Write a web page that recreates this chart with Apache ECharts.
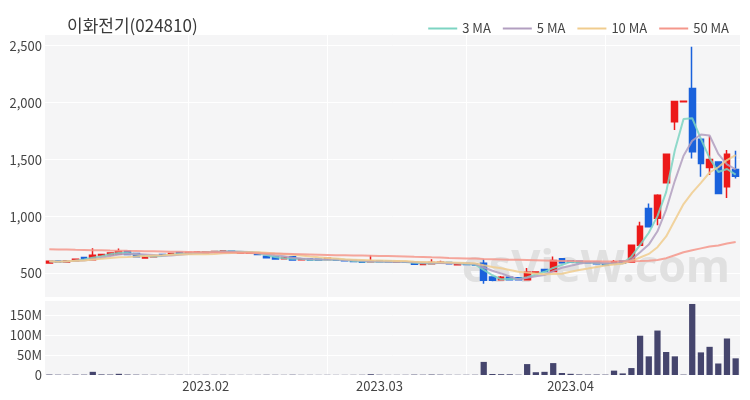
<!DOCTYPE html>
<html>
<head>
<meta charset="utf-8">
<script src="https://cdn.jsdelivr.net/npm/echarts@6/dist/echarts.min.js"></script>
<style>
html, body { margin: 0; padding: 0; background: #fff; }
#main { width: 750px; height: 400px; }
</style>
</head>
<body>
<div id="main"></div>
<script>
// trading days, 2023-01-04 ~ 2023-04-28
var dates = [
  '2023-01-04','2023-01-05','2023-01-06','2023-01-09','2023-01-10','2023-01-11','2023-01-12','2023-01-13',
  '2023-01-16','2023-01-17','2023-01-18','2023-01-19','2023-01-20','2023-01-25','2023-01-26','2023-01-27',
  '2023-01-30','2023-01-31',
  '2023-02-01','2023-02-02','2023-02-03','2023-02-06','2023-02-07','2023-02-08','2023-02-09','2023-02-10',
  '2023-02-13','2023-02-14','2023-02-15','2023-02-16','2023-02-17','2023-02-20','2023-02-21','2023-02-22',
  '2023-02-23','2023-02-24','2023-02-27','2023-02-28',
  '2023-03-02','2023-03-03','2023-03-06','2023-03-07','2023-03-08','2023-03-09','2023-03-10','2023-03-13',
  '2023-03-14','2023-03-15','2023-03-16','2023-03-17','2023-03-20','2023-03-21','2023-03-22','2023-03-23',
  '2023-03-24','2023-03-27','2023-03-28','2023-03-29','2023-03-30','2023-03-31',
  '2023-04-03','2023-04-04','2023-04-05','2023-04-06','2023-04-07','2023-04-10','2023-04-11','2023-04-12',
  '2023-04-13','2023-04-14','2023-04-17','2023-04-18','2023-04-19','2023-04-20','2023-04-21','2023-04-24',
  '2023-04-25','2023-04-26','2023-04-27','2023-04-28'
];

var opens = [
  592, 610, 602, 612, 640, 622, 658, 666, 672, 695,
  676, 636, 648, 668, 668, 684, 676, 680, 682, 686,
  688, 696, 680, 678, 676, 652, 645, 630, 648, 620,
  628, 626, 624, 626, 618, 614, 608, 603, 612, 608,
  600, 604, 600, 580, 585, 590, 596, 578, 588, 584,
  590, 470, 445, 468, 462, 445, 508, 535, 518, 630,
  612, 608, 600, 600, 586, 588, 608, 602, 748, 1070,
  985, 1296, 1832, 2008, 2125, 1678, 1431, 1480, 1261, 1414
];
var closes = [
  608, 600, 612, 626, 630, 660, 668, 680, 694, 668,
  648, 648, 655, 662, 676, 678, 684, 688, 690, 694,
  698, 688, 686, 684, 668, 638, 628, 640, 618, 630,
  618, 616, 634, 616, 612, 606, 598, 610, 604, 602,
  606, 598, 582, 590, 596, 600, 585, 584, 580, 576,
  440, 440, 468, 445, 446, 512, 514, 518, 615, 595,
  600, 596, 594, 586, 576, 604, 592, 748, 915, 910,
  1188, 1548, 2010, 2012, 1570, 1467, 1502, 1203, 1548, 1355
];
var lows = [
  588, 596, 600, 608, 626, 615, 654, 662, 668, 664,
  644, 632, 644, 658, 664, 674, 672, 676, 678, 682,
  684, 684, 676, 674, 664, 634, 624, 626, 614, 616,
  614, 612, 620, 612, 608, 602, 594, 598, 600, 598,
  596, 594, 578, 576, 582, 586, 582, 574, 576, 572,
  410, 432, 440, 440, 440, 438, 506, 512, 512, 588,
  596, 592, 590, 582, 572, 582, 588, 598, 740, 905,
  925, 1290, 1760, 2004, 1510, 1350, 1364, 1197, 1164, 1335
];
var highs = [
  612, 614, 616, 630, 644, 722, 672, 685, 720, 700,
  680, 652, 660, 672, 680, 688, 688, 692, 694, 698,
  702, 700, 690, 688, 680, 656, 648, 644, 650, 634,
  632, 630, 638, 630, 622, 618, 612, 660, 616, 612,
  610, 608, 604, 594, 625, 612, 600, 590, 592, 588,
  625, 475, 478, 472, 468, 548, 516, 540, 650, 636,
  618, 612, 604, 604, 590, 618, 612, 752, 955, 1115,
  1195, 1552, 2012, 2014, 2491, 1680, 1706, 1485, 1584, 1577
];
// volume, millions of shares
var volumes = [
  1.2, 0.8, 0.7, 1.0, 0.9, 8, 1.5, 1.2, 3, 1.2,
  0.9, 0.7, 0.6, 0.6, 0.5, 0.6, 0.5, 0.5, 0.6, 0.5,
  0.6, 0.5, 0.4, 0.4, 0.5, 0.7, 0.6, 0.5, 0.8, 0.5,
  0.5, 0.4, 0.5, 0.4, 0.4, 0.5, 0.6, 2.0, 0.8, 0.5,
  0.5, 0.6, 1.0, 0.8, 1.2, 0.9, 0.6, 0.5, 0.6, 0.7,
  33, 2.5, 2, 1.8, 0.8, 27.5, 7, 8, 30, 5,
  3, 1.5, 1.2, 1.2, 1.0, 11, 4, 17.5, 99, 47,
  112, 58, 47, 1, 179, 57, 71, 29, 92, 42
];
// 50-day MA (needs history before the window)
var ma50 = [
  713, 711, 710, 708, 707, 705, 704, 702, 701, 699,
  698, 696, 695, 694, 692, 691, 690, 688, 687, 686,
  685, 684, 682, 681, 679, 677, 675, 673, 671, 669,
  667, 665, 663, 661, 660, 659, 658, 657, 655, 654,
  652, 650, 647, 645, 642, 640, 637, 635, 633, 631,
  628, 626, 624, 622, 620, 618, 616, 614, 612, 610,
  609, 608, 607, 607, 606, 606, 607, 608, 610, 613,
  618, 635, 661, 687, 705, 721, 737, 747, 764, 777
];
var maNames = ['3 MA', '5 MA', '10 MA', '50 MA'];
var maColors = ['#7dd4c2', '#b29fc0', '#f0cc8e', '#f4978b'];

function calcMA(n) {
  var out = [];
  for (var i = 0; i < closes.length; i++) {
    var s = 0, c = 0;
    for (var j = Math.max(0, i - n + 1); j <= i; j++) { s += closes[j]; c++; }
    out.push(Math.round(s / c));
  }
  return out;
}

var candles = opens.map(function (o, i) { return [o, closes[i], lows[i], highs[i]]; });
var maData = [calcMA(3), calcMA(5), calcMA(10), ma50];

function isMonthStart(i) {
  return i > 0 && dates[i].slice(0, 7) !== dates[i - 1].slice(0, 7);
}
function gridLineAt(i) {
  return i > 0 && i % 16 === 0;
}
function commas(v) {
  return String(v).replace(/\B(?=(\d{3})+(?!\d))/g, ',');
}

var chart = echarts.init(document.getElementById('main'));

var xAxisBase = {
  type: 'category',
  data: dates,
  boundaryGap: true,
  axisLine: { show: false },
  axisTick: { show: false },
  splitLine: {
    show: true,
    interval: function (i) { return gridLineAt(i); },
    alignWithLabel: true,
    lineStyle: { color: '#ffffff', width: 1 }
  }
};

var series = [{
  name: 'price',
  type: 'candlestick',
  xAxisIndex: 0,
  yAxisIndex: 0,
  data: candles,
  barWidth: '72%',
  itemStyle: {
    color: '#ec1a1a',
    color0: '#1a62dc',
    borderColor: '#ec1a1a',
    borderColor0: '#1a62dc',
    borderWidth: 1.5
  },
  z: 2
}];
maNames.forEach(function (name, k) {
  series.push({
    name: name,
    type: 'line',
    xAxisIndex: 0,
    yAxisIndex: 0,
    data: maData[k],
    showSymbol: false,
    symbol: 'none',
    lineStyle: { color: maColors[k], width: 2, opacity: 0.85 },
    itemStyle: { color: maColors[k] },
    z: 3
  });
});
series.push({
  name: 'volume',
  type: 'bar',
  xAxisIndex: 1,
  yAxisIndex: 1,
  data: volumes,
  barWidth: '72%',
  itemStyle: { color: '#45456d' }
});

chart.setOption({
  animation: false,
  backgroundColor: '#ffffff',
  textStyle: { fontFamily: '"Noto Sans CJK KR", "Noto Sans", sans-serif' },
  title: {
    text: '이화전기(024810)',
    left: 62,
    top: 12,
    textStyle: { fontSize: 17, fontWeight: 'normal', color: '#3a3a3a' }
  },
  legend: {
    data: maNames,
    right: 16,
    top: 17,
    icon: 'rect',
    itemWidth: 29,
    itemHeight: 2,
    itemGap: 12,
    textStyle: { fontSize: 13, color: '#444' }
  },
  graphic: [{
    type: 'text',
    right: 20,
    top: 247,
    z: 1,
    silent: true,
    style: {
      text: 'esVieW.com',
      font: 'bold 45px "Noto Sans", sans-serif',
      fill: '#e0e0e0'
    }
  }],
  grid: [
    { left: 45, right: 10, top: 34, height: 263, show: true, backgroundColor: '#f5f5f6', borderWidth: 0 },
    { left: 45, right: 10, top: 300, height: 75, show: true, backgroundColor: '#f5f5f6', borderWidth: 0 }
  ],
  xAxis: [
    Object.assign({}, xAxisBase, { gridIndex: 0, axisLabel: { show: false } }),
    Object.assign({}, xAxisBase, {
      gridIndex: 1,
      axisLabel: {
        show: true,
        interval: function (i) { return isMonthStart(i); },
        formatter: function (v) { return v.slice(0, 7).replace('-', '.'); },
        fontSize: 13,
        color: '#444',
        margin: 5
      }
    })
  ],
  yAxis: [
    {
      type: 'value',
      gridIndex: 0,
      min: 294,
      max: 2603,
      splitNumber: 5,
      axisLine: { show: false },
      axisTick: { show: false },
      axisLabel: {
        fontSize: 13, color: '#444', margin: 3,
        showMinLabel: false, showMaxLabel: false,
        formatter: function (v) { return commas(v); }
      },
      splitLine: { lineStyle: { color: '#ffffff', width: 1 } }
    },
    {
      type: 'value',
      gridIndex: 1,
      min: 0,
      max: 189,
      splitNumber: 4,
      axisLine: { show: false },
      axisTick: { show: false },
      axisLabel: {
        fontSize: 13, color: '#444', margin: 3,
        showMaxLabel: false,
        formatter: function (v) { return v === 0 ? '0' : v + 'M'; }
      },
      splitLine: { lineStyle: { color: '#ffffff', width: 1 } }
    }
  ],
  series: series
});
</script>
</body>
</html>
